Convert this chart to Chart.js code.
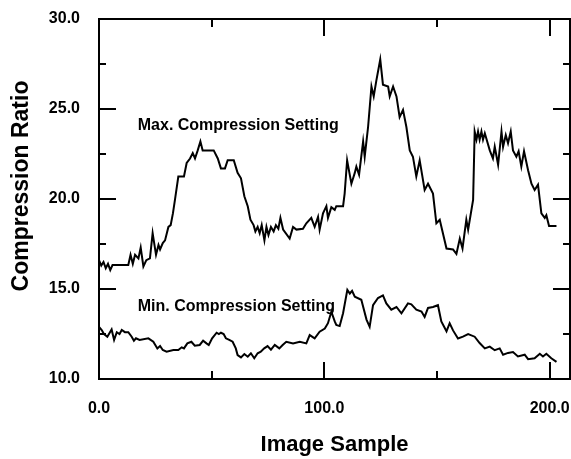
<!DOCTYPE html>
<html lang="en">
<head>
  <meta charset="UTF-8" />
  <title>Compression Ratio vs Image Sample</title>
  <script src="https://cdn.jsdelivr.net/npm/chart.js"></script>
  <style>
    body {
      margin: 0;
      background: white;
    }
    canvas {
      display: block;
    }
  </style>
</head>
<body>
  <canvas id="ratioChart" width="571" height="459"></canvas>

  <script>
    // max compression setting
    const maxSample = [
      0, 1, 2, 3, 4, 5, 6, 13, 14, 15, 16, 17.5, 18.5, 19.7, 21, 22.6, 23.8, 25.3, 26.4, 27.1,
      28.3, 29.3, 30.8, 31.8, 32.8, 33.7, 35.2, 37.7, 38.9, 40.4, 41.6, 42.6, 43.8, 45, 46, 50.9,
      52.7, 54.1, 55.9, 57.1, 59.8, 61.5, 63, 64.5, 66, 67.2, 68.6, 69.4, 70.4, 71.3, 72.2, 73.4,
      74.3, 75.2, 76.3, 77.5, 78.5, 79.6, 80.5, 81.7, 84.6, 86.1, 87.6, 90.5, 92, 94.2, 95.7, 97.2,
      97.9, 99.4, 100.9, 101.6, 103.1, 104.6, 105.3, 108.3, 109, 110.1, 112, 113.5, 114.2, 115.4,
      117.2, 117.9, 119.4, 120.9, 121.9, 123.1, 124.8, 126, 128.3, 129, 130.5, 132, 133.4, 134.9,
      136.4, 137.9, 139.3, 140.8, 142.3, 144.5, 146, 148.2, 149.7, 151.2, 154.2, 157.1, 158.6,
      160.1, 161.3, 163, 163.8, 166, 166.7, 167.5, 168.2, 168.9, 169.7, 170.4, 171.2, 173.4, 174.8,
      175.6, 177.1, 178.6, 179.3, 180.5, 181.5, 182.7, 183.7, 185.2, 186.2, 187.4, 188.6, 190.4,
      191.9, 193.3, 194.8, 196.3, 197.8, 198.5, 199.7, 203
    ];
    const maxRatio = [
      16.6, 16.3, 16.5, 16.15, 16.4, 16.05, 16.33, 16.33, 16.9, 16.4, 16.9, 16.7, 17.3, 16.25, 16.6, 16.7, 18.1, 16.9, 17.45, 17.2,
      17.55, 17.7, 18.45, 18.55, 19.2, 19.95, 21.25, 21.25, 22.0, 22.25, 22.55, 22.25, 22.7, 23.2, 22.7, 22.7,
      22.25, 21.7, 21.7, 22.15, 22.15, 21.45, 21.15, 20.15, 19.6, 18.85, 18.55, 18.2, 18.45, 18.1, 18.55, 17.7,
      18.45, 18.0, 18.45, 18.2, 18.55, 18.35, 18.95, 18.3, 17.8, 18.45, 18.3, 18.35, 18.65, 18.95, 18.45, 19.0,
      18.3, 19.2, 19.6, 18.95, 19.55, 19.4, 19.6, 19.6, 20.3, 22.15, 20.85, 21.45, 21.8, 21.35,
      23.2, 22.35, 24.0, 26.25, 25.7, 26.6, 27.75, 26.35, 26.25, 25.7, 26.25, 25.7, 24.55, 24.95,
      24.0, 22.7, 22.35, 21.25, 22.15, 20.5, 20.85, 20.3, 18.65, 18.85, 17.25, 17.2, 16.95,
      17.8, 17.25, 18.85, 18.3, 19.95, 23.75, 23.3, 23.75, 23.3, 23.75, 23.3, 23.65, 22.7, 22.25,
      22.9, 21.9, 23.75, 22.9, 23.55, 23.1, 23.75, 22.7, 22.35, 22.65, 21.8, 22.65, 21.6,
      20.85, 20.5, 20.8, 19.2, 18.95, 19.1, 18.5, 18.5
    ];

    // min compression setting
    const minSample = [
      0, 1.2, 2.2, 3.7, 5.6, 6.7, 7.9, 9.1, 10.1, 11.5, 13, 14.5, 15.5, 16.4, 18, 21.9, 24.1, 25.9,
      27.1, 28.3, 30, 33, 35.2, 36.7, 37.7, 39.2, 41, 42.5, 44.7, 46.2, 47.7, 48.7, 50.2, 52.2,
      53.2, 54.1, 55.3, 56.3, 57.8, 59.3, 60.7, 61.5, 63, 64.5, 66, 67.4, 68.9, 70.4, 71.8, 73.3,
      74.8, 76.3, 78, 80, 81.5, 83.1, 86.1, 89.1, 92, 93.5, 95.7, 97.9, 100.2, 101.6, 103.1,
      104.6, 105.3, 106.8, 108.3, 110.2, 111.3, 112.3, 113.5, 116.4, 118.7, 120.1, 121.6, 123.8,
      126, 127.5, 129.7, 132, 134.2, 137.1, 138.6, 140.8, 143.1, 144.5, 146, 148.2, 150.4, 151.9,
      154.2, 155.6, 157.1, 159.3, 161.5, 163.8, 166.7, 168.9, 171.2, 173.4, 175.6, 177.8, 179.3,
      181.5, 183.7, 185.9, 188.9, 190.4, 193.3, 195.6, 197, 198.5, 200.7, 203
    ];
    const minRatio = [
      12.9, 12.72, 12.5, 12.35, 12.75, 12.17, 12.6, 12.5, 12.72, 12.6, 12.6, 12.35, 12.13, 12.26, 12.17, 12.26, 12.07, 11.7,
      11.83, 11.61, 11.52, 11.61, 11.61, 11.76, 11.7, 11.98, 12.07, 11.85, 11.89, 12.13, 11.98, 11.89, 12.26, 12.57,
      12.5, 12.57, 12.5, 12.26, 12.17, 12.07, 11.7, 11.33, 11.2, 11.39, 11.24, 11.43, 11.15, 11.43, 11.52, 11.7,
      11.83, 11.63, 11.89, 11.7, 11.89, 12.07, 11.98, 12.07, 11.98, 12.44, 12.26, 12.63, 12.8, 13.1, 13.74,
      13.2, 13.0, 12.94, 13.65, 14.95, 14.75, 14.9, 14.57, 14.4, 13.3, 12.9, 14.1, 14.5,
      14.65, 14.2, 13.85, 14.0, 13.65, 14.2, 14.15, 13.85, 13.75, 13.45, 13.95, 14.0, 14.1, 13.2,
      12.65, 13.1, 12.7, 12.25, 12.35, 12.5, 12.35, 12.0, 11.7, 11.8, 11.6, 11.7, 11.35,
      11.45, 11.5, 11.25, 11.35, 11.1, 11.15, 11.4, 11.25, 11.4, 11.15, 10.95
    ];

    const xTicks = [0, 100, 200];
    const xMinorTicks = [50, 150];
    const yTicks = [10, 15, 20, 25, 30];
    const yMinorTicks = [12.5, 17.5, 22.5, 27.5];

    const TEXT_FONT = '"Liberation Sans", Arial, sans-serif';

    function pairs(xs, ys) {
      return xs.map((x, i) => ({ x: x, y: ys[i] }));
    }

    // frame with inward ticks, the y title and the two inline labels
    const framePlugin = {
      id: 'frame',
      afterDatasetsDraw(chart) {
        const { ctx, chartArea: a, scales: { x, y } } = chart;
        ctx.save();
        ctx.strokeStyle = '#000';
        ctx.lineWidth = 2;
        ctx.strokeRect(a.left, a.top, a.right - a.left, a.bottom - a.top);

        ctx.beginPath();
        const yTick = (v, len) => {
          const py = Math.round(y.getPixelForValue(v));
          ctx.moveTo(a.left, py); ctx.lineTo(a.left + len, py);
          ctx.moveTo(a.right, py); ctx.lineTo(a.right - len, py);
        };
        const xTick = (v, len) => {
          const px = Math.round(x.getPixelForValue(v));
          ctx.moveTo(px, a.top); ctx.lineTo(px, a.top + len);
          ctx.moveTo(px, a.bottom); ctx.lineTo(px, a.bottom - len);
        };
        yTicks.forEach(v => yTick(v, 17));
        yMinorTicks.forEach(v => yTick(v, 7));
        xTicks.forEach(v => xTick(v, 17));
        xMinorTicks.forEach(v => xTick(v, 8));
        ctx.stroke();

        ctx.fillStyle = '#000';
        ctx.font = 'bold 16px ' + TEXT_FONT;
        ctx.textBaseline = 'alphabetic';
        ctx.textAlign = 'left';
        ctx.fillText('Max. Compression Setting', x.getPixelForValue(17.2), y.getPixelForValue(23.83));
        ctx.fillText('Min. Compression Setting', x.getPixelForValue(17.2), y.getPixelForValue(13.78));

        // y title sits a little above the middle of the axis in the original
        ctx.translate(22, 186);
        ctx.rotate(-Math.PI / 2);
        ctx.font = 'bold 23px ' + TEXT_FONT;
        ctx.textAlign = 'center';
        ctx.textBaseline = 'middle';
        ctx.fillText('Compression Ratio', 0, 0);
        ctx.restore();
      }
    };

    const ctx = document.getElementById('ratioChart').getContext('2d');

    new Chart(ctx, {
      type: 'line',
      data: {
        datasets: [
          {
            label: 'Max. Compression Setting',
            data: pairs(maxSample, maxRatio),
            borderColor: '#000',
            borderWidth: 2,
            pointRadius: 0,
            tension: 0
          },
          {
            label: 'Min. Compression Setting',
            data: pairs(minSample, minRatio),
            borderColor: '#000',
            borderWidth: 2,
            pointRadius: 0,
            tension: 0
          }
        ]
      },
      options: {
        responsive: false,
        devicePixelRatio: 1,
        animation: false,
        layout: { padding: { top: 19, right: 1, left: 0, bottom: 0 } },
        scales: {
          x: {
            type: 'linear',
            min: 0,
            max: 209,
            afterBuildTicks: s => { s.ticks = xTicks.map(v => ({ value: v })); },
            afterFit: s => { s.height = 80; s.paddingLeft = 0; s.paddingRight = 0; },
            grid: { display: false },
            border: { display: false },
            ticks: {
              color: '#000',
              padding: 12,
              maxRotation: 0,
              font: { family: TEXT_FONT, size: 16, weight: 'bold' },
              callback: v => v.toFixed(1)
            },
            title: {
              display: true,
              text: 'Image Sample',
              color: '#000',
              padding: { top: 0, bottom: 1 },
              font: { family: TEXT_FONT, size: 22, weight: 'bold' }
            }
          },
          y: {
            min: 10,
            max: 30,
            afterBuildTicks: s => { s.ticks = yTicks.map(v => ({ value: v })); },
            afterFit: s => { s.width = 99; s.paddingTop = 0; s.paddingBottom = 0; },
            grid: { display: false },
            border: { display: false },
            ticks: {
              color: '#000',
              padding: 11,
              font: { family: TEXT_FONT, size: 16, weight: 'bold' },
              callback: v => v.toFixed(1)
            }
          }
        },
        plugins: {
          legend: { display: false },
          tooltip: { enabled: false }
        }
      },
      plugins: [framePlugin]
    });
  </script>
</body>
</html>
